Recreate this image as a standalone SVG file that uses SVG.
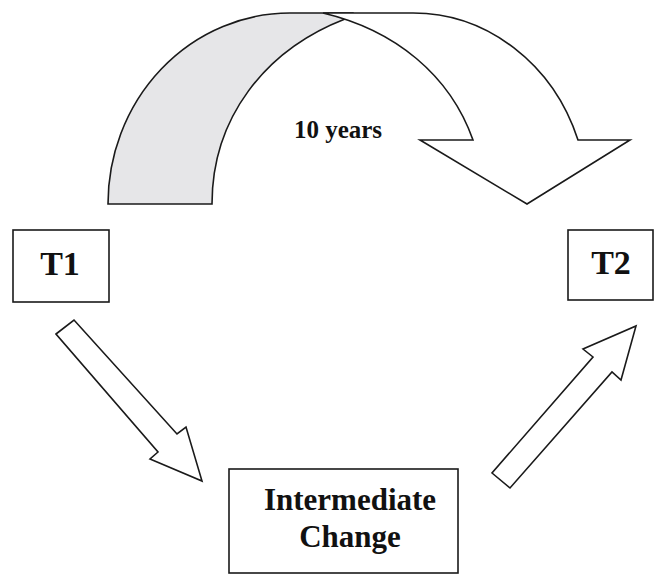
<svg xmlns="http://www.w3.org/2000/svg" width="654" height="575" viewBox="0 0 654 575">
  <style>
    .shape { stroke: #1a1a1a; stroke-width: 1.6; stroke-linejoin: miter; }
    .box { fill: #ffffff; stroke: #1a1a1a; stroke-width: 1.6; }
    .lbl { font-family: "Liberation Serif", "Times New Roman", serif; font-weight: bold; fill: #111111; text-anchor: middle; }
  </style>
  <rect width="654" height="575" fill="#ffffff"/>
  <g id="connectors">
    <g id="curved-arrow">
      <path class="shape" fill="#e6e6e8" d="M108,204 A182,191 0 0 1 290,13 L352,13 L345,19 C265,50 212,118 212,204 Z"/>
      <path class="shape" fill="#ffffff" d="M323,13 L413,13 A175,191 0 0 1 578,140 L630,140 L527,204 L420,140 L473,140 C450,75 395,30 323,13 Z"/>
    </g>
    <path id="arrow-down" class="shape" fill="#ffffff" d="M56,334 L74,320 L177,434 L186,427 L202,481 L150,459 L158,452 Z"/>
    <path id="arrow-up" class="shape" fill="#ffffff" d="M492,473 L510,488 L612,372 L621,380 L636,326 L583,349 L593,357 Z"/>
  </g>
  <text id="label-10years" class="lbl" x="338" y="138" font-size="25">10 years</text>
  <g id="node-t1">
    <rect class="box" x="13" y="230" width="96" height="72"/>
    <text class="lbl" x="60" y="275" font-size="34">T1</text>
  </g>
  <g id="node-t2">
    <rect class="box" x="568" y="230" width="85" height="70"/>
    <text class="lbl" x="611" y="274" font-size="34">T2</text>
  </g>
  <g id="node-intermediate">
    <rect class="box" x="229" y="469" width="229" height="104"/>
    <text class="lbl" x="350" y="510" font-size="31">Intermediate</text>
    <text class="lbl" x="350" y="547" font-size="31">Change</text>
  </g>
</svg>
